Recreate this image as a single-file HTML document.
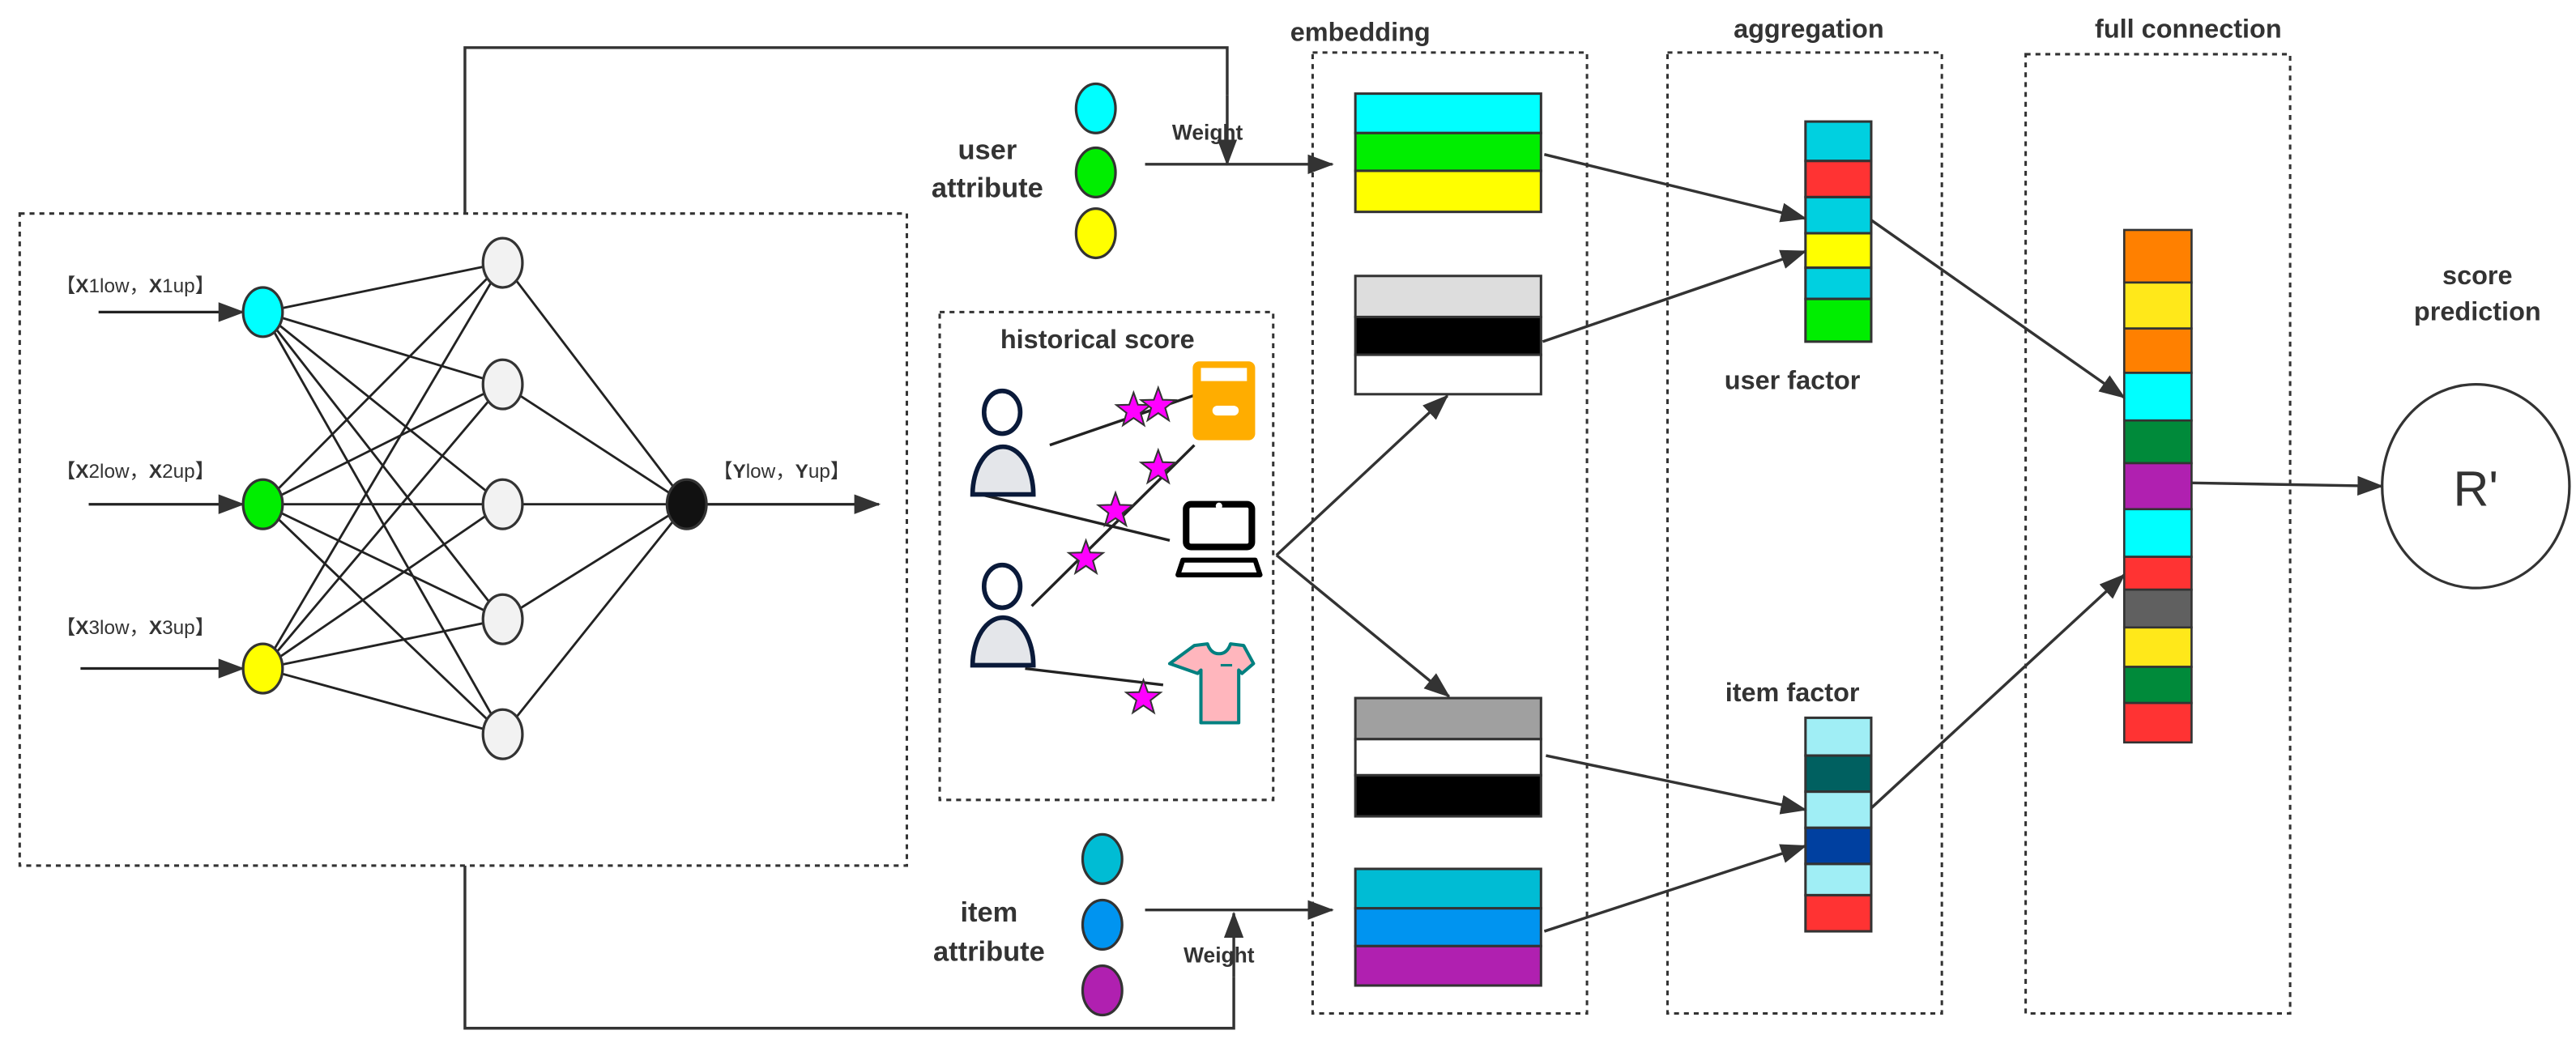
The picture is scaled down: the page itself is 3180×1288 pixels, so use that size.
<!DOCTYPE html>
<html><head><meta charset="utf-8"><style>
html,body{margin:0;padding:0;background:#fff;}
svg{display:block;}
text{font-family:"Liberation Sans","Noto Sans CJK SC",sans-serif;fill:#333;}
</style></head><body>
<svg width="3180" height="1288" viewBox="0 0 1568 635" preserveAspectRatio="none" xmlns="http://www.w3.org/2000/svg">
<defs>
<marker id="ar" markerUnits="userSpaceOnUse" markerWidth="16" markerHeight="12" refX="15" refY="6" orient="auto">
<path d="M0,0 L16,6 L0,12 Z" fill="#333"/>
</marker>
<polygon id="st" points="0,-11 2.65,-3.64 10.46,-3.4 4.28,1.39 6.47,8.9 0,4.5 -6.47,8.9 -4.28,1.39 -10.46,-3.4 -2.65,-3.64" fill="#ff00ff" stroke="#333" stroke-width="1"/>
</defs>

<g fill="none" stroke="#333" stroke-width="1.5" stroke-dasharray="3 3">
<rect x="12" y="130" width="540" height="397"/>
<rect x="572" y="190" width="203" height="297"/>
<rect x="799" y="32" width="167" height="585"/>
<rect x="1015" y="32" width="167" height="585"/>
<rect x="1233" y="33" width="161" height="584"/>
</g>

<g stroke="#222" stroke-width="1.4">
<line x1="160" y1="190" x2="306" y2="160"/><line x1="160" y1="190" x2="306" y2="234"/><line x1="160" y1="190" x2="306" y2="307"/><line x1="160" y1="190" x2="306" y2="377"/><line x1="160" y1="190" x2="306" y2="447"/>
<line x1="160" y1="307" x2="306" y2="160"/><line x1="160" y1="307" x2="306" y2="234"/><line x1="160" y1="307" x2="306" y2="307"/><line x1="160" y1="307" x2="306" y2="377"/><line x1="160" y1="307" x2="306" y2="447"/>
<line x1="160" y1="407" x2="306" y2="160"/><line x1="160" y1="407" x2="306" y2="234"/><line x1="160" y1="407" x2="306" y2="307"/><line x1="160" y1="407" x2="306" y2="377"/><line x1="160" y1="407" x2="306" y2="447"/>
<line x1="306" y1="160" x2="418" y2="307"/><line x1="306" y1="234" x2="418" y2="307"/><line x1="306" y1="307" x2="418" y2="307"/><line x1="306" y1="377" x2="418" y2="307"/><line x1="306" y1="447" x2="418" y2="307"/>
</g>
<g stroke="#222" stroke-width="1.6" marker-end="url(#ar)">
<line x1="60" y1="190" x2="148" y2="190"/>
<line x1="54" y1="307" x2="148" y2="307"/>
<line x1="49" y1="407" x2="148" y2="407"/>
<line x1="418" y1="307" x2="535" y2="307"/>
</g>
<g stroke="#333" stroke-width="1.6">
<ellipse cx="160" cy="190" rx="12" ry="15" fill="#00ffff"/>
<ellipse cx="160" cy="307" rx="12" ry="15" fill="#00ee00"/>
<ellipse cx="160" cy="407" rx="12" ry="15" fill="#ffff00"/>
<ellipse cx="306" cy="160" rx="12" ry="15" fill="#f2f2f2"/>
<ellipse cx="306" cy="234" rx="12" ry="15" fill="#f2f2f2"/>
<ellipse cx="306" cy="307" rx="12" ry="15" fill="#f2f2f2"/>
<ellipse cx="306" cy="377" rx="12" ry="15" fill="#f2f2f2"/>
<ellipse cx="306" cy="447" rx="12" ry="15" fill="#f2f2f2"/>
<ellipse cx="418" cy="307" rx="12" ry="15" fill="#111"/>
</g>
<g font-size="12">
<text x="34" y="178">【<tspan font-weight="bold">X</tspan>1low，<tspan font-weight="bold">X</tspan>1up】</text>
<text x="34" y="291">【<tspan font-weight="bold">X</tspan>2low，<tspan font-weight="bold">X</tspan>2up】</text>
<text x="34" y="386">【<tspan font-weight="bold">X</tspan>3low，<tspan font-weight="bold">X</tspan>3up】</text>
<text x="434" y="291">【<tspan font-weight="bold">Y</tspan>low，<tspan font-weight="bold">Y</tspan>up】</text>
</g>

<g fill="none" stroke="#333" stroke-width="1.7">
<polyline points="283,130 283,29 747,29 747,58"/>
<polyline points="283,527 283,626 751,626 751,595"/>
</g>
<g stroke="#333" stroke-width="1.7" marker-end="url(#ar)">
<line x1="747" y1="58" x2="747" y2="100"/>
<line x1="751" y1="595" x2="751" y2="556"/>
<line x1="697" y1="100" x2="811" y2="100"/>
<line x1="697" y1="554" x2="811" y2="554"/>
</g>

<g stroke="#333" stroke-width="1.6">
<ellipse cx="667" cy="66" rx="12" ry="15" fill="#00ffff"/>
<ellipse cx="667" cy="105" rx="12" ry="15" fill="#00ee00"/>
<ellipse cx="667" cy="142" rx="12" ry="15" fill="#ffff00"/>
<ellipse cx="671" cy="523" rx="12" ry="15" fill="#00bcd4"/>
<ellipse cx="671" cy="563" rx="12" ry="15" fill="#0094f0"/>
<ellipse cx="671" cy="603" rx="12" ry="15" fill="#b020b0"/>
</g>
<g font-weight="bold" font-size="17" text-anchor="middle">
<text x="601" y="97">user</text>
<text x="601" y="120">attribute</text>
<text x="602" y="561">item</text>
<text x="602" y="585">attribute</text>
</g>
<g font-weight="bold" font-size="13" text-anchor="middle">
<text x="735" y="85">Weight</text>
<text x="742" y="586">Weight</text>
</g>

<text x="668" y="212" font-weight="bold" font-size="16" text-anchor="middle">historical score</text>
<g stroke="#222" stroke-width="1.7">
<line x1="639" y1="271" x2="729" y2="240"/>
<line x1="597" y1="301" x2="712" y2="329"/>
<line x1="628" y1="369" x2="727" y2="271"/>
<line x1="624" y1="407" x2="708" y2="417"/>
</g>
<g stroke="#0a1a3a" stroke-width="2.8">
<ellipse cx="610" cy="251" rx="11" ry="13" fill="#fff"/>
<path d="M592,301 A18.5,29 0 0 1 629,301 Z" fill="#e4e6ea"/>
<ellipse cx="610" cy="357" rx="11" ry="13" fill="#fff"/>
<path d="M592,405 A18.5,29 0 0 1 629,405 Z" fill="#e4e6ea"/>
</g>
<rect x="726" y="220" width="38" height="48" rx="4" fill="#ffad00"/>
<rect x="731" y="224" width="28" height="8" fill="#fff"/>
<rect x="738" y="247" width="16" height="6" rx="3" fill="#fff"/>
<rect x="722" y="307" width="40" height="26" rx="3" fill="none" stroke="#000" stroke-width="4"/>
<circle cx="742" cy="308" r="2" fill="#fff"/>
<path d="M720,341 L764,341 L767,350 L717,350 Z" fill="none" stroke="#000" stroke-width="3" stroke-linejoin="round"/>
<path d="M727,393 L735,392 Q737,398 742,398 Q747,398 749,392 L757,393 L763,404 L756,410 L754,408 L754,440 L731,440 L731,408 L729,410 L712,404 Z" fill="#ffb6bd" stroke="#008080" stroke-width="2" stroke-linejoin="round"/>
<line x1="743" y1="405" x2="750" y2="405" stroke="#008080" stroke-width="1.5"/>
<use href="#st" x="690" y="250"/>
<use href="#st" x="705" y="247"/>
<use href="#st" x="705" y="285"/>
<use href="#st" x="679" y="311"/>
<use href="#st" x="661" y="340"/>
<use href="#st" x="696" y="425"/>

<g font-weight="bold" font-size="16" text-anchor="middle">
<text x="828" y="25">embedding</text>
<text x="1101" y="23">aggregation</text>
<text x="1332" y="23">full connection</text>
<text x="1091" y="237">user factor</text>
<text x="1091" y="427">item factor</text>
<text x="1508" y="173">score</text>
<text x="1508" y="195">prediction</text>
</g>

<g stroke="#333" stroke-width="1.5">
<rect x="825" y="57" width="113" height="24" fill="#00ffff"/>
<rect x="825" y="81" width="113" height="23" fill="#00ee00"/>
<rect x="825" y="104" width="113" height="25" fill="#ffff00"/>
<rect x="825" y="168" width="113" height="25" fill="#dddddd"/>
<rect x="825" y="193" width="113" height="23" fill="#000"/>
<rect x="825" y="216" width="113" height="24" fill="#fff"/>
<rect x="825" y="425" width="113" height="25" fill="#a0a0a0"/>
<rect x="825" y="450" width="113" height="22" fill="#fff"/>
<rect x="825" y="472" width="113" height="25" fill="#000"/>
<rect x="825" y="529" width="113" height="24" fill="#00bcd4"/>
<rect x="825" y="553" width="113" height="23" fill="#0094f0"/>
<rect x="825" y="576" width="113" height="24" fill="#b020b0"/>
</g>
<g stroke="#333" stroke-width="1.5">
<rect x="1099" y="74" width="40" height="24" fill="#00d0e0"/>
<rect x="1099" y="98" width="40" height="22" fill="#ff3333"/>
<rect x="1099" y="120" width="40" height="22" fill="#00d0e0"/>
<rect x="1099" y="142" width="40" height="21" fill="#ffff00"/>
<rect x="1099" y="163" width="40" height="19" fill="#00d0e0"/>
<rect x="1099" y="182" width="40" height="26" fill="#00ee00"/>
<rect x="1099" y="437" width="40" height="23" fill="#a0eef5"/>
<rect x="1099" y="460" width="40" height="22" fill="#006060"/>
<rect x="1099" y="482" width="40" height="22" fill="#a0eef5"/>
<rect x="1099" y="504" width="40" height="22" fill="#0040a0"/>
<rect x="1099" y="526" width="40" height="19" fill="#a0eef5"/>
<rect x="1099" y="545" width="40" height="22" fill="#ff3333"/>
</g>
<g stroke="#333" stroke-width="1.3">
<rect x="1293" y="140" width="41" height="32" fill="#ff8000"/>
<rect x="1293" y="172" width="41" height="28" fill="#ffe81a"/>
<rect x="1293" y="200" width="41" height="27" fill="#ff8000"/>
<rect x="1293" y="227" width="41" height="29" fill="#00ffff"/>
<rect x="1293" y="256" width="41" height="26" fill="#008a3a"/>
<rect x="1293" y="282" width="41" height="28" fill="#b020b0"/>
<rect x="1293" y="310" width="41" height="29" fill="#00ffff"/>
<rect x="1293" y="339" width="41" height="20" fill="#ff3333"/>
<rect x="1293" y="359" width="41" height="23" fill="#606060"/>
<rect x="1293" y="382" width="41" height="24" fill="#ffe81a"/>
<rect x="1293" y="406" width="41" height="22" fill="#008a3a"/>
<rect x="1293" y="428" width="41" height="24" fill="#ff3333"/>
</g>
<ellipse cx="1507" cy="296" rx="57" ry="62" fill="#fff" stroke="#333" stroke-width="1.6"/>
<text x="1507" y="308" font-size="30" text-anchor="middle">R'</text>

<g stroke="#333" stroke-width="1.7" marker-end="url(#ar)">
<line x1="777" y1="338" x2="881" y2="241"/>
<line x1="777" y1="338" x2="882" y2="424"/>
<line x1="940" y1="94" x2="1099" y2="133"/>
<line x1="939" y1="208" x2="1099" y2="153"/>
<line x1="941" y1="460" x2="1099" y2="493"/>
<line x1="940" y1="567" x2="1099" y2="515"/>
<line x1="1139" y1="134" x2="1293" y2="242"/>
<line x1="1139" y1="492" x2="1293" y2="350"/>
<line x1="1334" y1="294" x2="1450" y2="296"/>
</g>
</svg>
</body></html>
